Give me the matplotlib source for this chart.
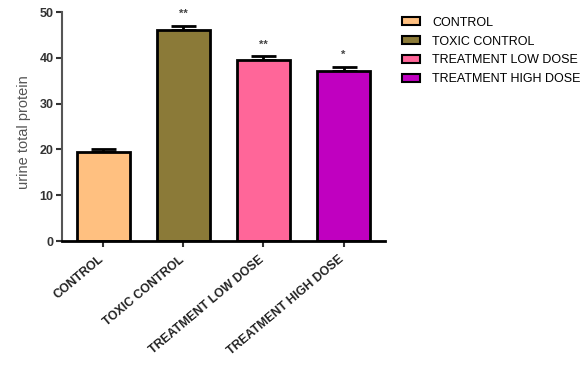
import matplotlib
matplotlib.use("Agg")
import matplotlib.pyplot as plt
from matplotlib.patches import Patch

plt.rcParams['font.family'] = ['Liberation Sans', 'DejaVu Sans']

categories = ["CONTROL", "TOXIC CONTROL", "TREATMENT LOW DOSE", "TREATMENT HIGH DOSE"]
means = [19.5, 46.0, 39.5, 37.2]
errors = [0.7, 1.0, 0.8, 0.8]
significance = ["", "**", "**", "*"]
colors = ["#FFC080", "#8B7A38", "#FF6699", "#C000C0"]
y_ticks = [0, 10, 20, 30, 40, 50]

fig = plt.figure(figsize=(5.88, 3.66), dpi=100)
ax = fig.add_axes([0.105, 0.3415, 0.55, 0.6255])

x = list(range(len(categories)))
ax.bar(x, means, width=0.67, color=colors, edgecolor="black", linewidth=2, zorder=2)
ax.errorbar(x, means, yerr=[[0] * len(errors), errors], fmt="none", ecolor="black",
            elinewidth=2, capsize=9, capthick=2, zorder=1)

for xi, m, e, s in zip(x, means, errors, significance):
    if s:
        ax.annotate(s, (xi, m + e), xytext=(0, 5), textcoords="offset points",
                    ha="center", va="bottom", fontsize=8, color="#444444",
                    fontweight="bold")

ax.set_xlim(-0.52, 3.52)
ax.set_ylim(0, 50)
ax.set_yticks(y_ticks)
ax.set_xticks(x)
ax.set_xticklabels([])

# slanted category labels hanging just left of each tick
for xi, name in zip(x, categories):
    ax.annotate(name, (xi, 0), xycoords=ax.get_xaxis_transform(),
                xytext=(-3.6, -9.0), textcoords="offset points",
                rotation=40, rotation_mode="anchor", ha="right", va="top",
                fontsize=8.8, fontweight="bold", color="#222222",
                annotation_clip=False)

for lbl in ax.get_yticklabels():
    lbl.set_fontweight("bold")
    lbl.set_fontsize(9)
    lbl.set_color("#333333")

ax.spines["top"].set_visible(False)
ax.spines["right"].set_visible(False)
ax.spines["left"].set_color("#555555")
ax.spines["left"].set_linewidth(1.5)
ax.spines["bottom"].set_color("black")
ax.spines["bottom"].set_linewidth(2)
ax.tick_params(axis="y", length=4, width=1.5, color="#333333", pad=2)
ax.tick_params(axis="x", length=4, width=1.5, color="#333333", pad=6)

ax.set_ylabel("urine total protein", fontsize=10.5, color="#555555", labelpad=4)
ax.yaxis.set_label_coords(-0.094, 0.475)

handles = [Patch(facecolor=c, edgecolor="black", linewidth=1.5) for c in colors]
fig.legend(handles, categories, loc="upper left", bbox_to_anchor=(0.665, 0.985),
           frameon=False, fontsize=9, handlelength=1.4, handleheight=0.6,
           handletextpad=1.0, labelspacing=0.55)

fig.savefig("out.png", dpi=100)
